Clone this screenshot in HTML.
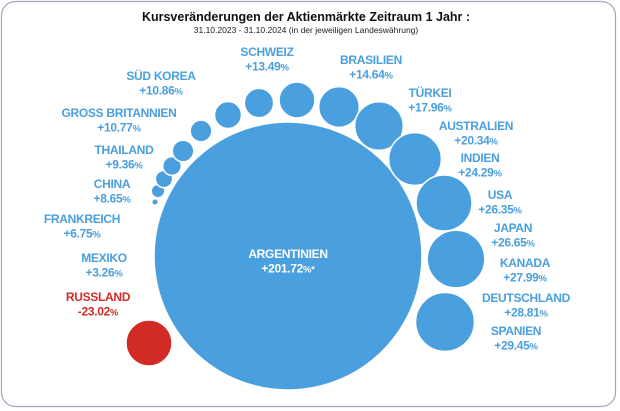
<!DOCTYPE html>
<html><head><meta charset="utf-8"><style>
html,body{margin:0;padding:0;background:#fff;width:620px;height:411px;overflow:hidden}
svg{display:block;font-family:"Liberation Sans",sans-serif}
</style></head><body>
<svg id="chart" width="620" height="411" viewBox="0 0 620 411">
<rect x="1.5" y="1.5" width="614" height="405" rx="14" fill="#fff" stroke="#a3a9c2" stroke-width="1.2"/>
<text x="306" y="21" text-anchor="middle" font-size="12.5" font-weight="bold" fill="#111">Kursveränderungen der Aktienmärkte Zeitraum 1  Jahr :</text>
<text x="306" y="33" text-anchor="middle" font-size="8.5" fill="#222">31.10.2023 - 31.10.2024 (in der jeweiligen Landeswährung)</text>
<g id="bubbles"></g>
<g id="labels"></g>
</svg>
<script>
const countries = ["MEXIKO","FRANKREICH","CHINA","THAILAND","GROSS BRITANNIEN","SÜD KOREA","SCHWEIZ","BRASILIEN","TÜRKEI","AUSTRALIEN","INDIEN","USA","JAPAN","KANADA","DEUTSCHLAND","SPANIEN"];
const changes = [3.26,6.75,8.65,9.36,10.77,10.86,13.49,14.64,17.96,20.34,24.29,26.35,26.65,27.99,28.81,29.45];
const mainName = "ARGENTINIEN";
const mainValue = 201.72;
const negName = "RUSSLAND";
const negValue = -23.02;

// layout (not data): bubble centres and label anchors
const bubbleSpots = {"MEXIKO":[155,202],"FRANKREICH":[158,191],"CHINA":[164,179],"THAILAND":[172,166],"GROSS BRITANNIEN":[183,151],"SÜD KOREA":[201,131],"SCHWEIZ":[228,115],"BRASILIEN":[259,103],"TÜRKEI":[297,100],"AUSTRALIEN":[339,107],"INDIEN":[379,126],"USA":[415,159],"KANADA":[444,203],"DEUTSCHLAND":[456,259],"SPANIEN":[445,322]};
const labelSpots = {"SCHWEIZ":[267,56],"BRASILIEN":[371,64],"TÜRKEI":[430,97],"AUSTRALIEN":[476,130],"INDIEN":[480,162],"USA":[500,199],"JAPAN":[513,232],"KANADA":[525,267],"DEUTSCHLAND":[526,302],"SPANIEN":[516,335],"SÜD KOREA":[161,80],"GROSS BRITANNIEN":[119,117],"THAILAND":[124,154],"CHINA":[112,188],"FRANKREICH":[82,223],"MEXIKO":[104,262],"RUSSLAND":[98,301],"ARGENTINIEN":[288,258]};

const BLUE="#4a9fde", RED="#d22b26";
function rScale(v){ return 3 + (Math.abs(v)-3)*1.0; }
function rMain(v){ return 134*(v/201.72); }
const NS="http://www.w3.org/2000/svg";
const gB=document.getElementById('bubbles'), gL=document.getElementById('labels');
function circle(cx,cy,r,fill){
  const c=document.createElementNS(NS,'circle');
  c.setAttribute('cx',cx);c.setAttribute('cy',cy);c.setAttribute('r',Math.max(r,1));
  c.setAttribute('fill',fill);c.setAttribute('stroke','#fff');c.setAttribute('stroke-width','1.5');
  gB.appendChild(c);return c;
}
function label(name,val,color){
  const p=labelSpots[name]; if(!p) return;
  const t=document.createElementNS(NS,'text');
  t.setAttribute('x',p[0]);t.setAttribute('y',p[1]);t.setAttribute('text-anchor','middle');
  t.setAttribute('font-weight','bold');t.setAttribute('fill',color);t.setAttribute('font-size','12');
  t.setAttribute('letter-spacing','-0.3');
  const s1=document.createElementNS(NS,'tspan');s1.textContent=name;t.appendChild(s1);
  const s2=document.createElementNS(NS,'tspan');s2.setAttribute('x',p[0]);s2.setAttribute('dy','14.5');
  s2.textContent=(val>0?'+':'')+val.toFixed(2);
  const s3=document.createElementNS(NS,'tspan');s3.setAttribute('font-size','9.5');s3.textContent='%'+(name===mainName?'*':'');
  s2.appendChild(s3);t.appendChild(s2);
  
  
  gL.appendChild(t);
}
// main bubble
const big=circle(288,256,rMain(mainValue),BLUE);


countries.forEach((c,i)=>{
  const pos=bubbleSpots[c];
  if(pos){
    const el=circle(pos[0],pos[1],rScale(changes[i]),BLUE);
    
    
  }
  label(c,changes[i],BLUE);
});
const neg=circle(149,343,rScale(negValue),RED);


label(negName,negValue,RED);
label(mainName,mainValue,"#fff");
</script>
</body></html>
